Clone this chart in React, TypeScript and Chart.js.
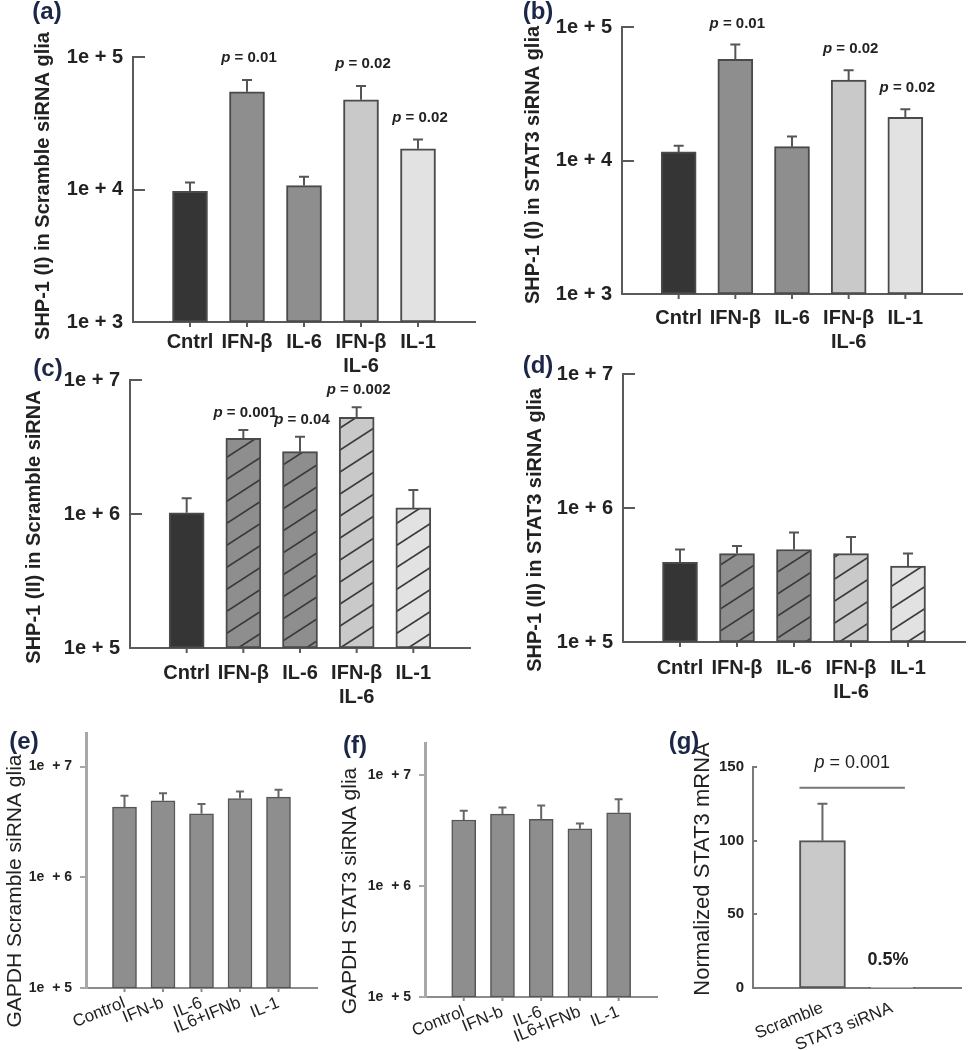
import React, { useEffect, useRef } from 'react';
import { Chart, registerables } from 'chart.js';
Chart.register(...registerables);

const FONT = '"Liberation Sans", Arial, Helvetica, sans-serif';

// ---------- data ----------
const shpCategories: (string | string[])[] = ['Cntrl', 'IFN-β', 'IL-6', ['IFN-β', 'IL-6'], 'IL-1'];
const gapdhCategories: string[] = ['Control', 'IFN-b', 'IL-6', 'IL6+IFNb', 'IL-1'];
const stat3Categories: string[] = ['Scramble', 'STAT3 siRNA'];

const aValues = [9700, 54600, 10700, 47500, 20300];
const aErrorTops = [11300, 67100, 12500, 60500, 23800];
const aPValues = ['', '0.01', '', '0.02', '0.02'];

const bValues = [11600, 57300, 12700, 40100, 21100];
const bErrorTops = [12900, 74100, 15100, 47400, 24200];
const bPValues = ['', '0.01', '', '0.02', '0.02'];

const cValues = [1020000, 3670000, 2920000, 5270000, 1110000];
const cErrorTops = [1310000, 4240000, 3770000, 6250000, 1510000];
const cPValues = ['', '0.001', '0.04', '0.002', ''];

const dValues = [393000, 457000, 490000, 457000, 369000];
const dErrorTops = [490000, 520000, 655000, 608000, 457000];
const dPValues = ['', '', '', '', ''];

const eValues = [4300000, 4900000, 3740000, 5140000, 5300000];
const eErrorTops = [5450000, 5750000, 4600000, 5940000, 6160000];

const fValues = [3940000, 4460000, 3990000, 3280000, 4580000];
const fErrorTops = [4770000, 5120000, 5330000, 3670000, 6080000];

const gValues = [100, 0.5];
const gErrorTops = [125, 0.5];
const gPValue = '0.001';
const gSigLineValue = 136;
const gKnockdownLabel = '0.5%';

const shpITicks = [1e3, 1e4, 1e5];
const shpIITicks = [1e5, 1e6, 1e7];
const gapdhTicks = [1e5, 1e6, 1e7];
const stat3Ticks = [0, 50, 100, 150];

const shpFills = ['#353535', '#8e8e8e', '#8e8e8e', '#c9c9c9', '#e2e2e2'];
const gapdhFills = ['#8e8e8e', '#8e8e8e', '#8e8e8e', '#8e8e8e', '#8e8e8e'];
const stat3Fills = ['#c9c9c9', '#c9c9c9'];

// ---------- helpers ----------
const expLabel = (v: number) => `1e + ${Math.round(Math.log10(v))}`;
const expLabelWide = (v: number) => `1e  + ${Math.round(Math.log10(v))}`;

function makeHatch(color: string): CanvasPattern | string {
  const c = document.createElement('canvas');
  const W = 34, H = 22;
  c.width = W; c.height = H;
  const g = c.getContext('2d');
  if (!g) return color;
  g.fillStyle = color; g.fillRect(0, 0, W, H);
  g.strokeStyle = '#3a3a3a'; g.lineWidth = 1.7;
  const offs = [[0, 0], [-W, 0], [W, 0], [0, -H], [0, H]];
  for (const [dx, dy] of offs) {
    g.beginPath(); g.moveTo(dx, H + dy); g.lineTo(W + dx, dy); g.stroke();
  }
  return g.createPattern(c, 'repeat') || color;
}

function drawP(ctx: CanvasRenderingContext2D, cx: number, cy: number, val: string, size: number, bold: boolean) {
  const w = bold ? 'bold ' : '';
  const f1 = `italic ${w}${size}px ${FONT}`;
  const f2 = `${w}${size}px ${FONT}`;
  const rest = ' = ' + val;
  ctx.font = f1; const w1 = ctx.measureText('p').width;
  ctx.font = f2; const w2 = ctx.measureText(rest).width;
  const x = cx - (w1 + w2) / 2;
  ctx.textAlign = 'left'; ctx.textBaseline = 'middle'; ctx.fillStyle = '#222';
  ctx.font = f1; ctx.fillText('p', x, cy);
  ctx.font = f2; ctx.fillText(rest, x + w1, cy);
}

type Box = { x: number; y: number; w: number; h: number };
type Area = { l: number; t: number; r: number; b: number };

interface PanelSpec {
  key: string;
  letter: string; letterAt: [number, number];
  box: Box; area: Area;
  categories: (string | string[])[];
  values: number[]; errorTops: number[];
  fills: string[]; hatch: boolean[];
  yType: 'logarithmic' | 'linear'; yMin: number; yMax: number; yTicks: number[];
  yLabel: (v: number) => string;
  yFontSize: number; yPad: number;
  xFontSize: number; xBold: boolean; xPad: number; rotation: number;
  barThickness: number;
  title: string; titleAt: [number, number]; titleFont: string;
  pLabels: string[]; pGap: number; pSize: number;
  yAxisColor: string; xAxisColor: string; yAxisWidth: number; xAxisWidth: number;
  yTickDir: number; yTickLen: number; xTickLen: number;
  barBorder: string; barBorderWidth: number;
  errColor: string; errWidth: number; capHalf: number;
  extra?: (chart: any, ctx: CanvasRenderingContext2D) => void;
}

const shpCommon = {
  categories: shpCategories,
  fills: shpFills,
  yType: 'logarithmic' as const,
  yLabel: expLabel,
  yFontSize: 20, yPad: 10,
  xFontSize: 20, xBold: true, rotation: 0,
  barThickness: 35,
  titleFont: `bold 20px ${FONT}`,
  pSize: 15,
  yAxisColor: '#5a5a5a', xAxisColor: '#5a5a5a', yAxisWidth: 2, xAxisWidth: 2,
  yTickDir: 1, yTickLen: 12, xTickLen: 5,
  barBorder: '#4a4a4a', barBorderWidth: 2,
  errColor: '#555', errWidth: 2, capHalf: 5,
};

const gapdhCommon = {
  categories: gapdhCategories,
  fills: gapdhFills,
  hatch: [false, false, false, false, false],
  yType: 'logarithmic' as const,
  yLabel: expLabelWide,
  yFontSize: 14, yPad: 14,
  xFontSize: 17, xBold: false, xPad: 5, rotation: 22,
  barThickness: 24,
  titleFont: `21px ${FONT}`,
  pLabels: ['', '', '', '', ''], pGap: 20, pSize: 15,
  yAxisColor: '#a8a8a8', xAxisColor: '#8c8c8c', yAxisWidth: 3, xAxisWidth: 2,
  yTickDir: -1, yTickLen: 6, xTickLen: 4,
  barBorder: '#555', barBorderWidth: 1.5,
  errColor: '#666', errWidth: 2, capHalf: 4,
};

const panels: PanelSpec[] = [
  {
    ...shpCommon, key: 'a', letter: '(a)', letterAt: [47, 12],
    box: { x: 0, y: 0, w: 490, h: 385 }, area: { l: 133, t: 57, r: 475, b: 322 },
    values: aValues, errorTops: aErrorTops, hatch: [false, false, false, false, false],
    yMin: 1e3, yMax: 1e5, yTicks: shpITicks, xPad: 8,
    title: 'SHP-1 (I) in Scramble siRNA glia', titleAt: [43, 186],
    pLabels: aPValues, pGap: 22,
  },
  {
    ...shpCommon, key: 'b', letter: '(b)', letterAt: [538, 12],
    box: { x: 490, y: 0, w: 489, h: 385 }, area: { l: 622, t: 27, r: 962, b: 294 },
    values: bValues, errorTops: bErrorTops, hatch: [false, false, false, false, false],
    yMin: 1e3, yMax: 1e5, yTicks: shpITicks, xPad: 12,
    title: 'SHP-1 (I) in STAT3 siRNA glia', titleAt: [533, 165],
    pLabels: bPValues, pGap: 21,
  },
  {
    ...shpCommon, key: 'c', letter: '(c)', letterAt: [48, 369],
    box: { x: 0, y: 340, w: 490, h: 370 }, area: { l: 130, t: 380, r: 470, b: 648 },
    values: cValues, errorTops: cErrorTops, hatch: [false, true, true, true, true],
    yMin: 1e5, yMax: 1e7, yTicks: shpIITicks, xPad: 13,
    title: 'SHP-1 (II) in Scramble siRNA', titleAt: [34, 527],
    pLabels: cPValues, pGap: 17,
  },
  {
    ...shpCommon, key: 'd', letter: '(d)', letterAt: [538, 366],
    box: { x: 490, y: 340, w: 489, h: 370 }, area: { l: 623, t: 374, r: 965, b: 642 },
    values: dValues, errorTops: dErrorTops, hatch: [false, true, true, true, true],
    yMin: 1e5, yMax: 1e7, yTicks: shpIITicks, xPad: 14,
    title: 'SHP-1 (II) in STAT3 siRNA glia', titleAt: [535, 530],
    pLabels: dPValues, pGap: 20,
  },
  {
    ...gapdhCommon, key: 'e', letter: '(e)', letterAt: [24, 742],
    box: { x: 0, y: 700, w: 330, h: 350 }, area: { l: 86, t: 733, r: 317, b: 988 },
    values: eValues, errorTops: eErrorTops,
    yMin: 1e5, yMax: 2.01e7, yTicks: gapdhTicks,
    title: 'GAPDH Scramble siRNA glia', titleAt: [15, 891],
  },
  {
    ...gapdhCommon, key: 'f', letter: '(f)', letterAt: [355, 746],
    box: { x: 290, y: 700, w: 380, h: 350 }, area: { l: 425, t: 743, r: 660, b: 997 },
    values: fValues, errorTops: fErrorTops,
    yMin: 1e5, yMax: 1.95e7, yTicks: gapdhTicks,
    title: 'GAPDH STAT3 siRNA glia', titleAt: [350, 891],
  },
  {
    key: 'g', letter: '(g)', letterAt: [684, 742],
    box: { x: 640, y: 700, w: 339, h: 350 }, area: { l: 753, t: 767, r: 969, b: 988 },
    categories: stat3Categories, values: gValues, errorTops: gErrorTops,
    fills: stat3Fills, hatch: [false, false],
    yType: 'linear', yMin: 0, yMax: 150, yTicks: stat3Ticks,
    yLabel: (v: number) => String(v),
    yFontSize: 15, yPad: 9,
    xFontSize: 17, xBold: false, xPad: 10, rotation: 22,
    barThickness: 46,
    title: 'Normalized STAT3 mRNA', titleAt: [703, 869], titleFont: `22px ${FONT}`,
    pLabels: ['', ''], pGap: 20, pSize: 18,
    yAxisColor: '#7a7a7a', xAxisColor: '#7a7a7a', yAxisWidth: 2, xAxisWidth: 2,
    yTickDir: 1, yTickLen: 4, xTickLen: 0,
    barBorder: '#555', barBorderWidth: 2,
    errColor: '#666', errWidth: 2, capHalf: 5,
    extra: (chart: any, ctx: CanvasRenderingContext2D) => {
      const meta = chart.getDatasetMeta(0);
      const ys = chart.scales.y;
      const b0 = meta.data[1], b1 = meta.data[2];
      const yLine = ys.getPixelForValue(gSigLineValue);
      ctx.strokeStyle = '#777'; ctx.lineWidth = 2;
      ctx.beginPath(); ctx.moveTo(b0.x - 23, yLine); ctx.lineTo(b1.x + 13, yLine); ctx.stroke();
      drawP(ctx, (b0.x - 23 + b1.x + 13) / 2, yLine - 25, gPValue, 18, false);
      ctx.font = `bold 18px ${FONT}`; ctx.fillStyle = '#222';
      ctx.textAlign = 'center'; ctx.textBaseline = 'middle';
      ctx.fillText(gKnockdownLabel, b1.x - 4, ys.getPixelForValue(gValues[1]) - 27);
    },
  },
];

function PanelChart({ p }: { p: PanelSpec }) {
  const ref = useRef<HTMLCanvasElement>(null);
  useEffect(() => {
    const canvas = ref.current;
    if (!canvas) return;
    const { box, area } = p;
    const fills = p.fills.map((c, i) => (p.hatch[i] ? makeHatch(c) : c));
    const labels = ['', ...p.categories, ''];
    const data = [null, ...p.values, null];

    const decor = {
      id: 'decor_' + p.key,
      afterDraw(chart: any) {
        const ctx: CanvasRenderingContext2D = chart.ctx;
        const xs = chart.scales.x, ys = chart.scales.y;
        const ca = chart.chartArea;
        ctx.save();
        ctx.lineCap = 'butt';
        // y tick marks
        ctx.strokeStyle = p.yAxisColor; ctx.lineWidth = 2;
        for (const v of p.yTicks) {
          const y = Math.round(ys.getPixelForValue(v));
          ctx.beginPath(); ctx.moveTo(ca.left, y); ctx.lineTo(ca.left + p.yTickDir * p.yTickLen, y); ctx.stroke();
        }
        // x tick marks
        if (p.xTickLen > 0) {
          ctx.strokeStyle = p.xAxisColor;
          for (let i = 1; i <= p.categories.length; i++) {
            const x = xs.getPixelForTick(i);
            ctx.beginPath(); ctx.moveTo(x, ca.bottom); ctx.lineTo(x, ca.bottom + p.xTickLen); ctx.stroke();
          }
        }
        // error bars
        const meta = chart.getDatasetMeta(0);
        ctx.strokeStyle = p.errColor; ctx.lineWidth = p.errWidth;
        p.values.forEach((v, i) => {
          const el = meta.data[i + 1];
          if (!el || p.errorTops[i] <= v) return;
          const yTop = ys.getPixelForValue(v);
          const yErr = ys.getPixelForValue(p.errorTops[i]);
          ctx.beginPath();
          ctx.moveTo(el.x, yTop); ctx.lineTo(el.x, yErr);
          ctx.moveTo(el.x - p.capHalf, yErr); ctx.lineTo(el.x + p.capHalf, yErr);
          ctx.stroke();
        });
        // p-value labels
        p.pLabels.forEach((lab, i) => {
          if (!lab) return;
          const el = meta.data[i + 1];
          const yErr = ys.getPixelForValue(p.errorTops[i]);
          drawP(ctx, el.x + 2, yErr - p.pGap, lab, p.pSize, true);
        });
        // axis title
        ctx.save();
        ctx.translate(p.titleAt[0] - box.x, p.titleAt[1] - box.y);
        ctx.rotate(-Math.PI / 2);
        ctx.font = p.titleFont; ctx.fillStyle = '#222';
        ctx.textAlign = 'center'; ctx.textBaseline = 'middle';
        ctx.fillText(p.title, 0, 0);
        ctx.restore();
        // panel letter
        ctx.font = `bold 24px ${FONT}`; ctx.fillStyle = '#1c2646';
        ctx.textAlign = 'center'; ctx.textBaseline = 'middle';
        ctx.fillText(p.letter, p.letterAt[0] - box.x, p.letterAt[1] - box.y);
        if (p.extra) p.extra(chart, ctx);
        ctx.restore();
      },
    };

    const chart = new Chart(canvas, {
      type: 'bar',
      data: {
        labels: labels as any,
        datasets: [{
          data: data as any,
          backgroundColor: ['transparent', ...fills, 'transparent'] as any,
          borderColor: p.barBorder,
          borderWidth: p.barBorderWidth,
          borderSkipped: false,
          barThickness: p.barThickness,
        }],
      },
      options: {
        responsive: false,
        animation: false,
        layout: { padding: { left: 0, top: area.t - box.y, right: box.x + box.w - area.r, bottom: 0 } },
        plugins: { legend: { display: false }, tooltip: { enabled: false }, title: { display: false } },
        scales: {
          x: {
            type: 'category',
            offset: false,
            grid: { display: false, drawTicks: false, offset: false },
            border: { display: true, color: p.xAxisColor, width: p.xAxisWidth },
            ticks: {
              autoSkip: false,
              minRotation: p.rotation, maxRotation: p.rotation,
              padding: p.xPad, color: '#222',
              font: { family: FONT, size: p.xFontSize, weight: p.xBold ? 'bold' : 'normal' },
            },
            afterFit: (s: any) => { s.height = box.y + box.h - area.b; },
          },
          y: {
            type: p.yType,
            min: p.yMin, max: p.yMax,
            grid: { display: false, drawTicks: false },
            border: { display: true, color: p.yAxisColor, width: p.yAxisWidth },
            ticks: {
              padding: p.yPad, color: '#222',
              font: { family: FONT, size: p.yFontSize, weight: 'bold' },
              callback: (v: any) => p.yLabel(Number(v)),
            },
            afterBuildTicks: (s: any) => { s.ticks = p.yTicks.map((v) => ({ value: v })); },
            afterFit: (s: any) => { s.width = area.l - box.x; },
          } as any,
        },
      },
      plugins: [decor],
    });
    return () => chart.destroy();
  }, [p]);
  return (
    <canvas
      ref={ref}
      width={p.box.w}
      height={p.box.h}
      style={{ position: 'absolute', left: p.box.x, top: p.box.y, width: p.box.w, height: p.box.h }}
    />
  );
}

export default function App() {
  return (
    <div style={{ position: 'absolute', left: 0, top: 0, width: 979, height: 1050, background: '#fff', overflow: 'hidden' }}>
      {panels.map((p) => <PanelChart key={p.key} p={p} />)}
    </div>
  );
}
